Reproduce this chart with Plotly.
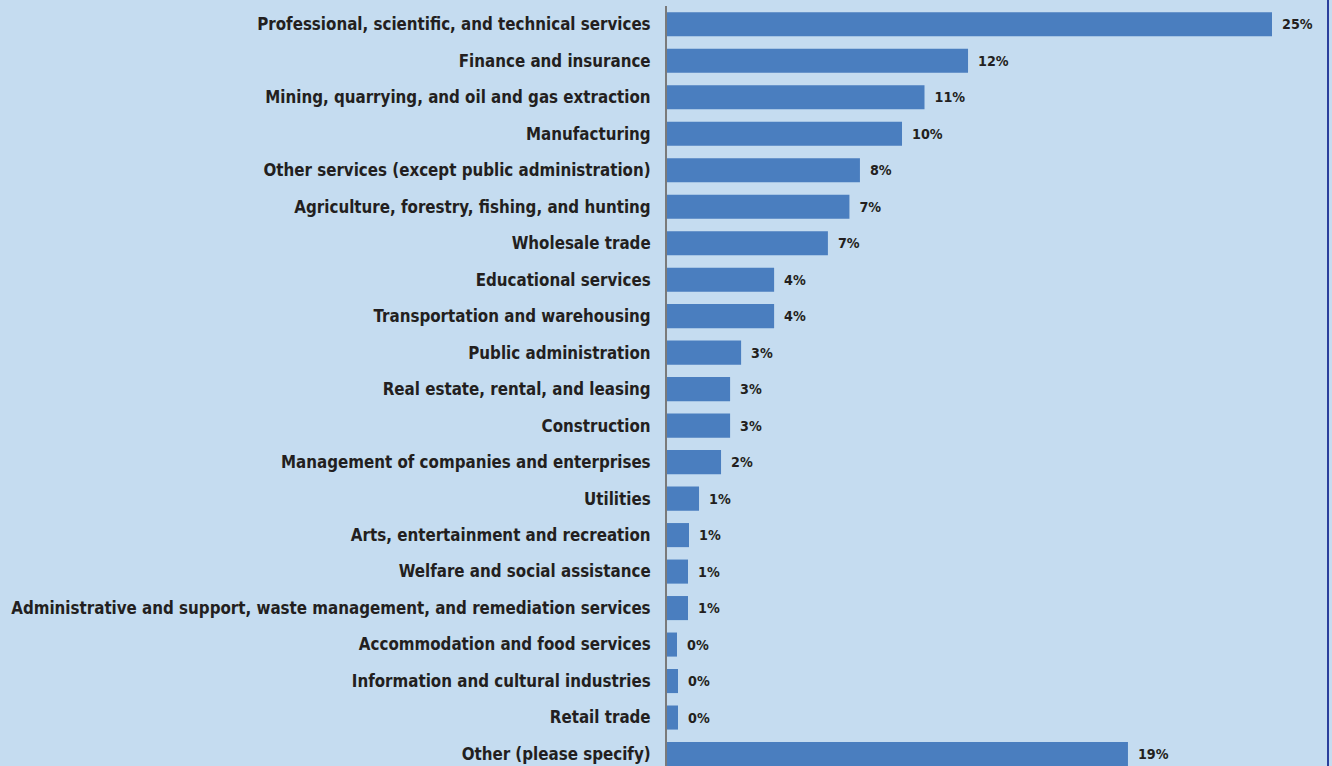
import plotly.graph_objects as go

# Industry shares (percent of respondents), top to bottom
industries = [
    "Professional, scientific, and technical services",
    "Finance and insurance",
    "Mining, quarrying, and oil and gas extraction",
    "Manufacturing",
    "Other services (except public administration)",
    "Agriculture, forestry, fishing, and hunting",
    "Wholesale trade",
    "Educational services",
    "Transportation and warehousing",
    "Public administration",
    "Real estate, rental, and leasing",
    "Construction",
    "Management of companies and enterprises",
    "Utilities",
    "Arts, entertainment and recreation",
    "Welfare and social assistance",
    "Administrative and support, waste management, and remediation services",
    "Accommodation and food services",
    "Information and cultural industries",
    "Retail trade",
    "Other (please specify)",
]
shares = [
    24.74, 12.31, 10.53, 9.61, 7.89, 7.46, 6.58, 4.38, 4.38, 3.03,
    2.58, 2.58, 2.21, 1.31, 0.90, 0.86, 0.86, 0.41, 0.45, 0.45, 18.85,
]

BG = "#c5dcf0"
BAR = "#4a7ebf"
INK = "#231f20"
FONT = "Liberation Sans Narrow, Arial Narrow, DejaVu Sans Condensed, sans-serif"

fig = go.Figure(
    go.Bar(
        x=shares,
        y=industries,
        orientation="h",
        marker=dict(color=BAR, line=dict(width=0)),
        width=0.66,
        texttemplate=" \u2009%{x:.0f}%",
        textposition="outside",
        cliponaxis=False,
        textfont=dict(family=FONT, size=14.2, color=INK, weight="bold"),
        hoverinfo="skip",
    )
)

fig.update_layout(
    width=1332,
    height=766,
    margin=dict(l=667, r=4, t=6, b=0),
    paper_bgcolor=BG,
    plot_bgcolor=BG,
    showlegend=False,
    xaxis=dict(
        range=[0, 27.03],
        showgrid=False,
        zeroline=False,
        showticklabels=False,
        showline=False,
        automargin=False,
    ),
    yaxis=dict(
        type="category",
        range=[20.328, -0.5],
        showgrid=False,
        zeroline=False,
        showline=True,
        linecolor="#7a7a7a",
        linewidth=2,
        ticks="",
        automargin=False,
        ticklabelstandoff=11,
        tickfont=dict(family=FONT, size=16.8, color=INK, weight="bold"),
    ),
    shapes=[
        dict(
            type="line", xref="paper", yref="paper",
            x0=1.0, x1=1.0, y0=-0.01, y1=1.01,
            line=dict(color="#2b3f9c", width=2),
        )
    ],
)

fig.write_html("out.html")
